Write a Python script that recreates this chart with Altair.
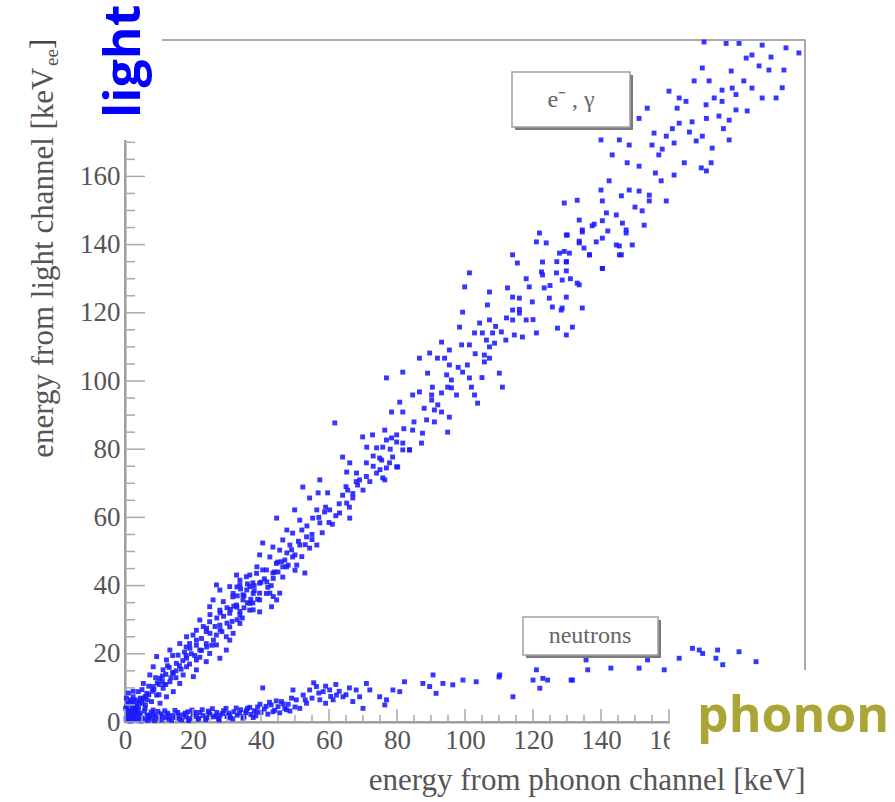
import altair as alt
import pandas as pd

# electron / gamma band (phonon energy, light energy) in keV
eg_x = [170.3, 176.8, 180.6, 187.4, 194.4, 198.2, 182.7, 184.4, 186.5, 189.4, 193.8, 169.8, 178.3,
        167.4, 171.8, 175.6, 178.6, 184.4, 187.4, 191.5, 193.3, 160.0, 163.0, 165.0, 173.3, 179.7,
        175.6, 162.4, 170.9, 179.7, 183.0, 153.6, 151.2, 171.0, 174.7, 177.7, 166.8, 155.6, 161.0,
        163.0, 159.2, 169.8, 177.7, 168.0, 172.7, 140.0, 145.4, 148.3, 155.0, 157.0, 161.5, 164.5,
        169.5, 172.4, 171.0, 143.3, 147.7, 151.2, 157.7, 161.5, 142.4, 146.0, 148.3, 151.2, 154.2,
        154.2, 152.1, 159.2, 140.0, 152.7, 129.2, 133.0, 140.4, 141.6, 144.5, 146.3, 147.4, 133.6,
        134.5, 137.4, 140.4, 140.4, 149.2, 145.4, 129.8, 133.6, 136.6, 146.0, 140.4, 129.2, 129.8,
        129.8, 133.0,
        121.9, 121.0, 123.9, 130.1, 134.5, 138.6, 133.6, 144.5, 147.4, 145.4, 136.6, 127.8, 130.7,
        114.0, 115.4, 122.8, 129.8, 122.5, 122.8, 126.9, 128.6, 140.4, 133.6, 101.3, 99.9, 107.2,
        112.5, 118.9, 123.3, 114.0, 116.0, 124.8, 125.7, 129.8, 128.6, 134.5, 128.3, 119.8, 114.0,
        116.0, 106.6, 99.3, 107.2, 112.2, 114.0, 118.0, 104.3, 98.4, 102.8, 105.1, 108.1, 110.7,
        114.5, 116.9, 121.0, 127.2, 129.8, 131.6, 106.3, 107.2, 108.7, 93.1, 99.0, 101.3, 95.4,
        89.6, 105.7, 107.2, 86.6, 91.9, 94.0, 105.7, 100.7, 95.4, 76.9, 81.7, 89.0, 94.6, 96.0,
        99.3, 110.1, 101.3, 111.0, 94.9, 90.4, 86.6, 84.6, 90.2, 93.1, 97.5, 101.9, 102.8, 103.7,
        80.8, 78.4, 81.7, 90.2, 91.0, 93.1, 95.4, 88.7, 91.0, 84.6, 87.5, 94.9, 76.4, 78.4, 79.9,
        81.7, 83.7, 75.8, 75.5, 77.8, 80.2, 75.8, 87.2,
        69.9, 72.8, 76.9, 79.9, 81.7, 83.7, 71.1, 74.0, 74.9, 78.7, 79.9, 76.9, 74.0, 76.4, 64.0,
        66.1, 65.2, 68.1, 68.4, 65.5, 67.0, 65.2, 63.1, 66.1, 57.3, 52.3, 56.8, 59.6, 54.3, 56.4,
        58.7, 60.2, 55.2, 57.3, 51.4, 49.9, 44.6, 47.6, 49.3, 52.0, 53.4, 46.4, 48.5, 51.4, 45.5,
        47.6, 49.3, 54.3, 56.4, 40.5, 43.5, 39.6, 42.6, 44.9, 46.4, 50.5, 52.9, 38.8, 40.5, 43.5,
        46.4, 36.7, 33.8, 37.6, 41.7, 32.9, 35.8, 39.6, 42.6, 45.5, 31.7, 34.7, 37.6, 32.9, 36.7,
        39.6, 33.8, 44.6,
        44.5, 47.5, 41.6, 38.7, 35.7, 32.8, 43.6, 39.6, 36.7, 33.8, 30.8, 27.9, 26.9, 31.8, 34.7,
        37.7, 41.6, 43.6, 39.6, 36.7, 32.8, 28.9, 25.9, 24.9, 27.9, 30.8, 33.8, 37.7, 22.0, 24.9,
        27.9, 30.8, 33.8, 21.0, 23.9, 26.9, 29.8, 31.8, 18.1, 21.0, 23.9, 26.9, 29.8, 16.1, 19.1,
        22.0, 24.9, 13.2, 15.6, 18.1, 21.0, 23.9, 27.9, 12.2, 15.1, 18.1, 21.0, 9.3, 8.3, 11.2,
        14.2, 17.1, 20.1, 7.3, 10.3, 13.2, 16.1, 5.4, 8.3, 11.2, 14.2, 3.9, 6.4, 9.3, 12.2, 2.4,
        4.9, 7.8, 10.3, 1.5, 3.4, 5.9, 8.3, 0.5, 2.0, 4.4, 7.3, 30.8, 43.1,
        3.0, 5.0, 6.0, 8.0, 9.5, 11.0, 12.5, 14.0, 16.0, 17.5, 19.0, 20.5, 22.5, 24.0, 25.5, 27.0,
        28.5, 30.0, 31.5, 33.0, 34.5, 36.0, 38.0, 40.0, 42.0, 45.0, 47.0, 49.0, 50.0, 52.0, 53.5,
        55.0, 58.0, 60.0, 62.0, 61.7, 64.0, 66.0, 68.0, 70.0, 71.0, 73.0, 72.0, 1.0, 2.5, 4.0,
        1.5, 6.0, 3.0, 5.0, 2.0, 0.8, 4.5, 7.0, 9.0, 10.0, 12.0, 15.0, 13.0, 17.0, 19.0, 22.0,
        24.0, 26.0, 28.0, 29.0, 25.0, 32.0, 35.0, 37.0, 34.0, 23.0, 20.0, 18.0, 14.0, 11.0,
        1.0, 2.0, 3.0, 1.0, 2.5, 4.0, 5.5, 6.5, 7.0, 8.5, 10.0, 11.5, 12.0, 13.5, 15.0, 16.5,
        18.0, 19.5, 21.0, 22.5, 25.0, 26.5, 28.0, 30.0, 31.0, 33.0, 35.0, 36.0, 38.0, 39.0, 41.0,
        43.0, 44.0, 46.0, 48.0, 50.0, 51.0, 53.0, 55.0, 57.0, 59.0, 61.0, 63.0, 65.0, 67.0, 69.0,
        71.0, 73.0, 75.0, 78.0, 82.0, 85.0, 88.0, 92.0, 96.0, 98.0, 103.0, 105.0, 109.0, 112.0,
        116.0, 118.0, 120.0, 125.0, 127.0, 131.0, 135.0, 138.0, 142.0, 150.0, 156.0, 158.0, 166.0,
        176.0, 182.0, 190.0,
        0.3, 0.6, 1.2, 1.8, 2.2, 2.8, 3.3, 0.4, 1.0, 1.6, 2.4, 3.6, 4.2, 0.2, 0.9]
eg_y = [199.4, 199.0, 199.0, 198.5, 197.7, 196.2, 194.7, 195.6, 192.4, 191.2, 191.2, 191.8, 190.9,
        188.0, 188.0, 185.3, 185.9, 185.9, 183.0, 183.0, 186.0, 185.0, 183.0, 182.0, 183.0, 184.0,
        182.0, 180.0, 181.0, 179.5, 179.2, 180.0, 177.0, 177.0, 177.7, 176.5, 176.0, 172.7, 174.0,
        175.6, 171.8, 171.8, 170.7, 170.4, 168.3, 170.7, 170.7, 169.2, 169.2, 166.3, 169.8, 164.0,
        162.5, 164.0, 161.6, 166.3, 164.0, 163.0, 158.7, 160.4, 158.7, 154.3, 156.0, 155.7, 154.5,
        152.8, 149.9, 152.8, 156.0, 145.7, 152.2, 153.0, 152.8, 149.3, 148.7, 146.3, 144.3, 147.2,
        144.3, 145.5, 147.0, 141.9, 139.9, 139.6, 142.8, 141.0, 137.0, 137.0, 133.0, 138.0, 135.0,
        132.3, 128.7,
        143.4, 140.8, 140.5, 142.8, 143.7, 140.8, 140.5, 139.9, 143.4, 137.0, 137.0, 137.5, 137.5,
        137.0, 134.6, 134.9, 134.9, 132.0, 131.1, 131.7, 129.6, 133.0, 128.2, 131.7, 127.6, 126.1,
        127.3, 127.6, 127.3, 124.6, 124.3, 124.3, 121.7, 124.6, 121.4, 121.4, 120.8, 123.2, 120.8,
        119.9, 122.3, 120.2, 117.9, 118.5, 117.9, 117.9, 117.0, 115.8, 114.1, 114.1, 114.1, 114.4,
        113.5, 112.9, 114.1, 115.5, 113.5, 115.8, 112.0, 110.0, 111.1, 111.4, 110.6, 110.6, 109.1,
        108.2, 107.6, 106.7, 106.7, 106.7, 106.7, 105.6, 104.7, 104.7, 100.9, 102.6, 102.3, 101.8,
        100.3, 102.6, 102.3, 100.9, 98.2, 98.2, 98.2, 96.8, 95.9, 95.9, 96.5, 95.9, 98.2, 95.9,
        93.5, 93.8, 90.9, 90.9, 94.4, 91.5, 90.9, 89.4, 88.6, 88.0, 85.6, 84.7, 85.0, 85.6, 83.3,
        82.1, 79.8, 79.8, 80.6, 76.8, 76.0, 74.8, 71.6, 81.8,
        83.6, 84.2, 82.7, 84.2, 81.8, 79.8, 80.6, 80.4, 77.4, 77.7, 74.8, 74.5, 73.0, 71.0, 77.7,
        76.0, 73.3, 73.0, 69.5, 68.0, 65.7, 64.2, 61.3, 59.8, 71.0, 68.9, 67.2, 67.2, 65.7, 62.2,
        61.6, 62.2, 59.8, 58.4, 59.2, 62.2, 59.8, 56.3, 55.4, 56.3, 54.3, 53.4, 51.9, 51.9, 50.4,
        49.6, 48.4, 51.0, 51.9, 52.5, 51.3, 49.0, 48.4, 46.9, 45.5, 46.0, 43.7, 45.5, 44.6, 43.7,
        42.5, 43.1, 41.6, 40.8, 41.1, 39.6, 38.7, 37.8, 37.8, 37.8, 36.7, 35.8, 34.9, 33.7, 32.8,
        32.3, 31.4, 35.8,
        46.5, 45.5, 44.6, 43.6, 42.6, 43.1, 42.1, 40.7, 39.7, 40.2, 39.7, 38.7, 40.2, 37.7, 37.3,
        37.7, 37.7, 36.8, 35.8, 34.8, 34.3, 35.3, 35.8, 33.8, 32.8, 31.9, 32.4, 32.9, 29.9, 29.4,
        28.4, 27.9, 28.9, 26.9, 26.5, 25.5, 25.0, 26.0, 25.0, 24.0, 23.0, 22.6, 21.1, 23.0, 21.6,
        21.1, 20.1, 21.1, 19.6, 18.7, 18.2, 17.7, 18.7, 18.2, 17.2, 16.2, 15.3, 19.2, 16.2, 15.3,
        14.3, 13.8, 13.3, 13.8, 12.8, 11.8, 11.3, 11.3, 10.4, 9.9, 8.9, 8.9, 8.4, 7.9, 7.4, 7.4,
        6.5, 6.0, 5.5, 6.0, 4.5, 4.0, 3.5, 4.5, 3.0, 2.5, 2.0, 24.0, 33.8,
        3.5, 5.5, 7.5, 9.0, 11.5, 13.5, 16.5, 19.5, 16.5, 20.5, 23.0, 19.5, 24.5, 27.5, 22.5, 30.5,
        26.5, 33.5, 29.5, 37.0, 30.5, 40.5, 38.5, 41.0, 39.5, 44.0, 47.5, 50.5, 44.5, 48.5, 57.5,
        53.5, 55.5, 58.5, 60.5, 87.7, 66.5, 63.0, 70.5, 68.0, 76.0, 75.0, 70.5, 1.5, 1.0, 4.0,
        2.5, 5.0, 6.5, 9.5, 5.0, 3.0, 7.0, 10.5, 13.0, 8.0, 11.0, 13.0, 16.0, 18.0, 17.0, 19.0,
        22.0, 24.0, 27.0, 31.0, 31.5, 34.0, 33.5, 36.0, 39.0, 28.0, 25.5, 22.0, 14.5, 12.0,
        2.0, 2.0, 4.5, 5.5, 6.0, 5.5, 7.0, 6.5, 8.0, 9.5, 11.0, 11.0, 14.0, 13.0, 15.0, 15.5,
        19.5, 20.0, 22.5, 21.0, 26.0, 28.0, 32.0, 29.0, 33.0, 30.0, 37.0, 35.0, 40.0, 36.0, 42.0,
        40.0, 44.0, 47.0, 46.0, 49.0, 53.0, 52.0, 55.0, 60.0, 63.0, 58.0, 64.0, 69.0, 67.0, 71.0,
        72.0, 78.0, 74.0, 80.0, 86.0, 88.0, 92.0, 93.0, 98.0, 104.0, 108.0, 101.0, 116.0, 112.0,
        121.0, 130.0, 118.0, 128.0, 135.0, 130.0, 139.0, 146.0, 144.0, 151.0, 161.0, 168.0, 173.0,
        174.0, 188.0, 195.0,
        1.0, 2.0, 3.5, 1.2, 4.0, 2.2, 5.0, 7.0, 8.5, 6.5, 9.0, 3.0, 6.0, 4.0, 5.5]

# nuclear recoil (neutron) band
nr_x = [0.5, 1.0, 1.5, 2.0, 2.5, 3.0, 3.5, 4.0, 4.5, 5.0, 6.0, 6.5, 7.0, 8.0, 8.5, 9.0, 10.0,
        10.5, 11.0, 12.0, 12.5, 13.0, 14.0, 15.0, 15.5, 16.0, 17.0, 18.0, 18.5, 19.0, 20.0, 21.0,
        21.5, 22.0, 23.0, 24.0, 24.5, 25.0, 26.0, 27.0, 27.5, 28.0, 29.0, 30.0, 30.5, 31.0, 32.0,
        33.0, 34.0, 35.0, 35.5, 36.0, 37.0, 38.0, 38.5, 39.0, 40.0, 40.5, 41.0, 42.0, 43.0, 44.0,
        45.0, 45.5, 46.0, 47.0, 48.0, 48.5, 49.0, 50.0,
        49.4, 50.4, 52.4, 54.3, 56.3, 58.3, 60.2, 62.2, 64.1, 51.4, 53.4, 57.3, 61.2, 68.0, 69.0,
        71.0, 72.0, 70.0, 74.9, 76.9, 76.4, 78.8, 80.8, 82.2, 87.6, 89.6, 90.6, 91.5, 93.5, 96.4,
        99.4, 103.3, 110.2, 114.1, 121.0, 120.0, 122.9, 122.0, 110.0, 131.6,
        124.3, 131.2, 135.6, 136.1, 142.9, 151.2, 153.7, 158.6, 163.0, 166.9, 168.9, 169.9, 174.3,
        173.8, 175.8, 180.6, 185.6,
        55.0, 57.0, 59.0, 60.5, 63.0, 62.0, 65.0, 66.0, 67.0, 59.0, 55.5, 53.0,
        0.7, 1.7, 2.7, 3.7, 4.7, 5.7, 6.7, 7.7, 8.7, 9.7, 10.7, 11.7, 12.7, 13.7, 14.7, 15.7,
        16.7, 17.7, 18.7, 19.7, 20.7, 21.7, 22.7, 23.7, 24.7, 25.7, 26.7, 27.7, 28.7, 29.7, 30.7,
        31.7, 32.7, 33.7, 34.7, 35.7, 36.7, 37.7, 38.7, 39.7, 41.5, 42.5, 43.5, 44.5, 46.5, 47.5]
nr_y = [0.5, 1.0, 0.3, 1.5, 0.8, 2.0, 1.0, 0.5, 1.8, 1.2, 0.7, 2.0, 1.4, 0.9, 2.2, 1.6, 1.0,
        2.4, 1.8, 1.2, 2.6, 0.8, 1.9, 1.3, 2.8, 0.9, 2.1, 1.5, 3.0, 1.0, 2.3, 1.6, 0.8, 2.8, 1.9,
        1.2, 3.2, 2.2, 1.5, 2.8, 1.0, 2.0, 3.3, 1.6, 2.6, 1.2, 3.0, 2.0, 3.6, 1.5, 2.7, 4.0, 2.2,
        3.3, 1.8, 4.4, 2.8, 10.0, 3.8, 2.3, 5.0, 3.4, 4.5, 2.7, 6.0, 4.0, 5.2, 3.2, 7.0, 4.4,
        9.4, 6.5, 7.9, 9.4, 10.4, 8.9, 9.4, 7.9, 7.4, 4.0, 5.5, 6.5, 6.5, 9.4, 7.4, 11.3, 9.4, 4.0,
        7.4, 6.5, 5.0, 9.4, 8.9, 11.8, 11.3, 10.4, 13.8, 8.4, 11.3, 10.9, 12.3, 11.8, 13.8, 7.4,
        15.3, 12.3, 12.8, 9.9, 13.2, 12.3,
        12.3, 12.3, 18.2, 15.3, 15.8, 15.8, 18.2, 15.3, 18.7, 21.6, 21.1, 20.1, 21.1, 18.7, 16.8,
        20.6, 17.7,
        7.0, 8.5, 5.5, 7.5, 9.0, 11.0, 8.0, 10.0, 6.0, 10.5, 11.5, 6.5,
        2.6, 0.4, 3.0, 2.4, 0.3, 3.2, 0.5, 2.9, 0.4, 3.1, 0.6, 3.3, 2.0, 0.5, 3.4, 1.9,
        0.6, 2.6, 0.4, 3.5, 2.8, 1.1, 3.6, 0.7, 2.5, 3.9, 1.8, 0.6, 2.5, 4.0, 2.0,
        0.9, 4.1, 2.6, 1.1, 3.3, 4.3, 1.3, 3.0, 5.2, 4.6, 5.8, 3.0, 6.2, 5.3, 3.6]

major_ticks = list(range(0, 201, 20))
minor_ticks = [v for v in range(0, 201, 5) if v % 20]
labelled = list(range(0, 161, 20))

W, H = 680, 682
SERIF = "Liberation Serif"
GREY_TXT = "#555555"
AXIS_GREY = "#9a9a9a"
TITLE_SIZE = 31

points = pd.DataFrame({"phonon": eg_x + nr_x, "light": eg_y + nr_y})

x_scale = alt.Scale(domain=[0, 200], nice=False, zero=False)
y_scale = alt.Scale(domain=[0, 200], nice=False, zero=False)

x_axis = alt.Axis(
    values=labelled, ticks=False, grid=False, format="d",
    domainColor=AXIS_GREY, domainWidth=2,
    labelFont=SERIF, labelFontSize=27, labelColor=GREY_TXT, labelPadding=5,
    labelFlush=False, labelOverlap=False,
    title="energy from phonon channel [keV]", titleFont=SERIF, titleFontSize=TITLE_SIZE,
    titleFontWeight="normal", titleColor=GREY_TXT,
    titleX=W, titleY=67, titleAlign="right", titleBaseline="alphabetic",
)
# the y title ends in a subscript: the main part is the axis title, the rest follows as text
Y_TITLE_X, Y_TITLE_END = -73, 27
y_axis = alt.Axis(
    values=labelled, ticks=False, grid=False, format="d",
    domainColor=AXIS_GREY, domainWidth=2,
    labelFont=SERIF, labelFontSize=27, labelColor=GREY_TXT, labelPadding=5,
    labelFlush=False, labelOverlap=False,
    title="energy from light channel [keV", titleFont=SERIF, titleFontSize=TITLE_SIZE,
    titleFontWeight="normal", titleColor=GREY_TXT,
    titleX=Y_TITLE_X, titleY=Y_TITLE_END, titleAlign="right", titleBaseline="alphabetic",
    titleAngle=270,
)

X = alt.X("phonon:Q", scale=x_scale, axis=x_axis)
Y = alt.Y("light:Q", scale=y_scale, axis=y_axis)

scatter = alt.Chart(points).mark_square(size=24, color="#1a1aff", opacity=0.88).encode(x=X, y=Y)

# inward-pointing ticks, ROOT style
tick_col = "#aaaaaa"
y_major = alt.Chart(pd.DataFrame({"light": major_ticks})).mark_rule(color=tick_col, strokeWidth=1.5).encode(
    y=Y, x=alt.value(0), x2=alt.value(20))
y_minor = alt.Chart(pd.DataFrame({"light": minor_ticks})).mark_rule(color=tick_col, strokeWidth=1.5).encode(
    y=Y, x=alt.value(0), x2=alt.value(10))
x_major = alt.Chart(pd.DataFrame({"phonon": major_ticks})).mark_rule(color=tick_col, strokeWidth=1.5).encode(
    x=X, y=alt.value(H), y2=alt.value(H - 13))
x_minor = alt.Chart(pd.DataFrame({"phonon": minor_ticks})).mark_rule(color=tick_col, strokeWidth=1.5).encode(
    x=X, y=alt.value(H), y2=alt.value(H - 7))

one = pd.DataFrame({"k": [0]})

y_sub = alt.Chart(one).mark_text(font=SERIF, fontSize=19, color=GREY_TXT, angle=270,
                                 align="left", baseline="alphabetic").encode(
    x=alt.value(Y_TITLE_X + 6), y=alt.value(Y_TITLE_END - 1), text=alt.value("ee"))
y_close = alt.Chart(one).mark_text(font=SERIF, fontSize=TITLE_SIZE, color="#444444", angle=270,
                                   align="left", baseline="alphabetic").encode(
    x=alt.value(Y_TITLE_X), y=alt.value(Y_TITLE_END - 18), text=alt.value("]"))


def label_box(x0, y0, x1, y1, text, cx, cy):
    shadow = alt.Chart(one).mark_rect(color="#7a7a7a").encode(
        x=alt.value(x0 + 3), x2=alt.value(x1 + 3), y=alt.value(y0 + 3), y2=alt.value(y1 + 3))
    box = alt.Chart(one).mark_rect(fill="white", stroke="#a0a0a0", strokeWidth=1.5).encode(
        x=alt.value(x0), x2=alt.value(x1), y=alt.value(y0), y2=alt.value(y1))
    txt = alt.Chart(one).mark_text(font=SERIF, fontSize=24, color="#666666", baseline="middle",
                                   align="center").encode(
        x=alt.value(cx), y=alt.value(cy), text=alt.value(text))
    return [shadow, box, txt]


eg_box = label_box(387, 32, 505, 87, "e⁻ , γ", 446, 60)
n_box = label_box(398, 577, 533, 615, "neutrons", 465, 596)

# highlighted channel names
light_bg = alt.Chart(one).mark_rect(color="white").encode(
    x=alt.value(-49), x2=alt.value(37), y=alt.value(-40), y2=alt.value(100))
light_txt = alt.Chart(one).mark_text(font="Open Sans", fontWeight="bold", fontSize=50,
                                     color="#0000ff", angle=270, align="left",
                                     baseline="alphabetic").encode(
    x=alt.value(15), y=alt.value(78), text=alt.value("light"))
phonon_bg = alt.Chart(one).mark_rect(color="white").encode(
    x=alt.value(545), x2=alt.value(770), y=alt.value(630), y2=alt.value(715))
phonon_txt = alt.Chart(one).mark_text(font="Open Sans", fontWeight="bold", fontSize=50,
                                      color="#aaa535", align="left",
                                      baseline="alphabetic").encode(
    x=alt.value(572), y=alt.value(692), text=alt.value("phonon"))

chart = alt.layer(
    scatter, y_major, y_minor, x_major, x_minor, y_sub, y_close, *eg_box, *n_box,
    light_bg, light_txt, phonon_bg, phonon_txt,
).properties(
    width=W, height=H,
    padding={"left": 125, "top": 40, "right": 90, "bottom": 80},
    autosize=alt.AutoSizeParams(type="none"),
    background="white",
).configure_view(stroke="#8f8f8f", strokeWidth=1.5)

chart.save("out.html", embed_options={"renderer": "svg", "actions": False})
